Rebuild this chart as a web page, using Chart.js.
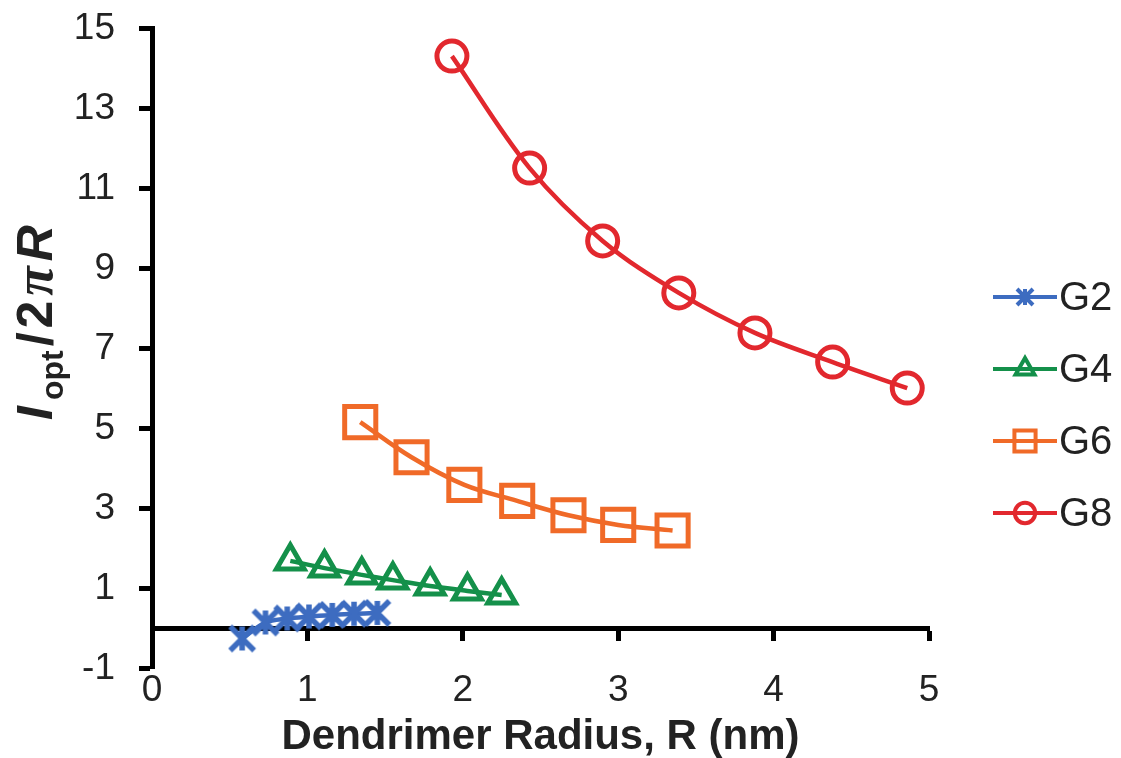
<!DOCTYPE html>
<html lang="en">
<head>
    <meta charset="UTF-8">
    <title>Dendrimer Radius</title>
    <script src="https://cdn.jsdelivr.net/npm/chart.js"></script>
    <style>
        html, body {
            margin: 0;
            padding: 0;
            background: #fff;
        }
        #wrap {
            width: 1121px;
            height: 758px;
        }
    </style>
</head>
<body>
<div id="wrap"><canvas id="chart" width="1121" height="758"></canvas></div>
<script>
    // values
    const seriesNames = ['G2', 'G4', 'G6', 'G8'];
    const g2X = [0.58, 0.73, 0.87, 1.01, 1.16, 1.30, 1.45];
    const g2Y = [-0.25, 0.15, 0.25, 0.30, 0.34, 0.37, 0.39];
    const g4X = [0.89, 1.11, 1.35, 1.55, 1.79, 2.03, 2.25];
    const g4Y = [1.69, 1.51, 1.34, 1.21, 1.06, 0.94, 0.84];
    const g6X = [1.34, 1.67, 2.01, 2.35, 2.68, 3.00, 3.35];
    const g6Y = [5.16, 4.28, 3.59, 3.19, 2.83, 2.59, 2.45];
    const g8X = [1.93, 2.43, 2.90, 3.39, 3.88, 4.38, 4.86];
    const g8Y = [14.31, 11.51, 9.69, 8.39, 7.39, 6.66, 6.01];
    const xTicks = [0, 1, 2, 3, 4, 5];
    const yTicks = [-1, 1, 3, 5, 7, 9, 11, 13, 15];

    const colors = ['#3d6cc0', '#14904a', '#f06a28', '#e2282e'];

    // Excel style star marker: an X with a vertical bar
    function starMarker(arm, lw, color) {
        const size = Math.ceil(2 * arm + lw + 2);
        const c = document.createElement('canvas');
        c.width = size;
        c.height = size;
        const g = c.getContext('2d');
        const m = size / 2;
        g.strokeStyle = color;
        g.lineWidth = lw;
        g.beginPath();
        g.moveTo(m - arm, m - arm); g.lineTo(m + arm, m + arm);
        g.moveTo(m - arm, m + arm); g.lineTo(m + arm, m - arm);
        g.moveTo(m, m - arm); g.lineTo(m, m + arm);
        g.stroke();
        return c;
    }

    const styles = [starMarker(12, 5.5, colors[0]), 'triangle', 'rect', 'circle'];
    const legendStyles = [starMarker(8, 4, colors[0]), 'triangle', 'rect', 'circle'];
    const radii = [15, 16, 22, 15];

    function toPoints(xs, ys) {
        return xs.map((x, i) => ({x: x, y: ys[i]}));
    }

    const allX = [g2X, g4X, g6X, g8X];
    const allY = [g2Y, g4Y, g6Y, g8Y];

    const datasets = seriesNames.map((name, i) => ({
        label: name,
        data: toPoints(allX[i], allY[i]),
        showLine: true,
        borderColor: colors[i],
        backgroundColor: 'rgba(0,0,0,0)',
        borderWidth: 4.5,
        tension: 0.35,
        pointStyle: styles[i],
        pointRadius: radii[i],
        pointBorderWidth: 5,
        pointBorderColor: colors[i],
        pointBackgroundColor: 'rgba(0,0,0,0)',
        xAxisID: 'x',
        yAxisID: 'y'
    }));

    // legend with line + marker, and the y title with subscript
    const extras = {
        id: 'extras',
        afterDraw(chart) {
            const ctx = chart.ctx;
            ctx.save();
            chart.data.datasets.forEach((ds, i) => {
                const y = 297 + i * 72;
                ctx.strokeStyle = ds.borderColor;
                ctx.lineWidth = 4;
                ctx.beginPath();
                ctx.moveTo(993, y);
                ctx.lineTo(1057, y);
                ctx.stroke();
                ctx.lineWidth = 4;
                ctx.fillStyle = 'rgba(0,0,0,0)';
                Chart.helpers.drawPoint(ctx, {
                    pointStyle: legendStyles[i],
                    radius: ds.pointRadius * 0.68,
                    rotation: 0,
                    borderWidth: 4
                }, 1025, y);
                ctx.fillStyle = '#222';
                ctx.font = '40px "Liberation Sans", Arial, sans-serif';
                ctx.textBaseline = 'middle';
                ctx.textAlign = 'left';
                ctx.fillText(ds.label, 1059, y + 2);
            });

            // y axis title: I_opt/2πR
            ctx.translate(52, 420);
            ctx.rotate(-Math.PI / 2);
            ctx.fillStyle = '#222';
            ctx.textBaseline = 'alphabetic';
            ctx.textAlign = 'left';
            let x = 0;
            const parts = [
                ['I', 'italic bold 50px "Liberation Sans", Arial, sans-serif', 0, 6],
                ['opt', 'bold 32px "Liberation Sans", Arial, sans-serif', 11, 4],
                ['/', 'bold 50px "Liberation Sans", Arial, sans-serif', 0, 4],
                ['2', 'bold 50px "Liberation Sans", Arial, sans-serif', 0, 5],
                ['π', 'italic bold 54px "Liberation Serif", serif', 0, 5],
                ['R', 'italic bold 50px "Liberation Sans", Arial, sans-serif', 0, 0]
            ];
            parts.forEach(p => {
                ctx.font = p[1];
                ctx.fillText(p[0], x, p[2]);
                x += ctx.measureText(p[0]).width + p[3];
            });
            ctx.restore();
        }
    };

    const tickFont = {family: '"Liberation Sans", Arial, sans-serif', size: 37};

    // keep tick label overflow from pushing the plot area around
    function noPad(scale) {
        scale.paddingTop = 0;
        scale.paddingBottom = 0;
    }

    new Chart(document.getElementById('chart'), {
        type: 'scatter',
        data: {datasets: datasets},
        plugins: [extras],
        options: {
            responsive: false,
            animation: false,
            layout: {padding: {top: 28.5, right: 192, left: 0, bottom: 0}},
            plugins: {
                legend: {display: false},
                tooltip: {enabled: false}
            },
            scales: {
                x: {
                    type: 'linear',
                    position: 'bottom',
                    min: 0,
                    max: 5,
                    afterBuildTicks: (scale) => { scale.ticks = xTicks.map(v => ({value: v})); },
                    grid: {display: false, drawTicks: false},
                    border: {display: false},
                    ticks: {color: '#222', font: tickFont, padding: 0, maxRotation: 0},
                    title: {
                        display: true,
                        text: 'Dendrimer Radius, R (nm)',
                        color: '#222',
                        font: {family: '"Liberation Sans", Arial, sans-serif', size: 42, weight: 'bold', lineHeight: 1},
                        padding: {top: 0, bottom: 0}
                    },
                    afterFit: (scale) => { scale.height = 89.5; noPad(scale); }
                },
                x0: {
                    type: 'linear',
                    position: {y: 0},
                    min: 0,
                    max: 5,
                    afterBuildTicks: (scale) => { scale.ticks = xTicks.map(v => ({value: v})); },
                    grid: {drawOnChartArea: false, drawTicks: true, tickLength: 10, tickWidth: 5, color: '#000'},
                    border: {display: true, width: 5, color: '#000'},
                    ticks: {display: false},
                    afterFit: (scale) => { noPad(scale); }
                },
                y: {
                    type: 'linear',
                    min: -1,
                    max: 15,
                    afterBuildTicks: (scale) => { scale.ticks = yTicks.map(v => ({value: v})); },
                    grid: {drawOnChartArea: false, drawTicks: true, tickLength: 13, tickWidth: 5, color: '#000'},
                    border: {display: true, width: 5, color: '#000'},
                    ticks: {color: '#222', font: tickFont, padding: 24},
                    afterFit: (scale) => { scale.width = 152; noPad(scale); }
                }
            }
        }
    });
</script>
</body>
</html>
